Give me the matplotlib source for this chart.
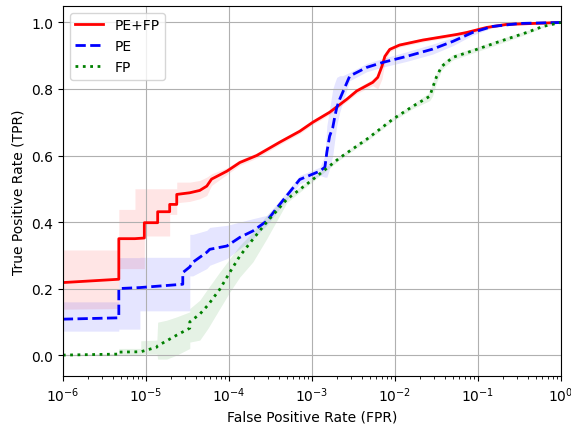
import matplotlib
matplotlib.use("Agg")
import matplotlib.pyplot as plt

# PE+FP (red)
red_fpr = [1e-6, 4.73e-6, 4.73e-6, 7.4e-6, 7.4e-6, 9.6e-6, 9.6e-6, 1.39e-5, 1.39e-5, 1.94e-5, 1.94e-5,
           2.36e-5, 2.36e-5, 3.39e-5, 4.47e-5, 5.43e-5, 6.2e-5, 9.5e-5, 1.36e-4, 2.17e-4, 4.11e-4,
           7.17e-4, 1.03e-3, 1.64e-3, 2.64e-3, 3.48e-3, 5.43e-3, 6.24e-3, 7.0e-3, 7.6e-3, 8.7e-3,
           1.14e-2, 2.17e-2, 5.6e-2, 7.4e-2, 0.128, 0.22, 1.0]
red_tpr = [0.218, 0.228, 0.350, 0.350, 0.350, 0.352, 0.398, 0.398, 0.431, 0.431, 0.453,
           0.453, 0.483, 0.488, 0.495, 0.508, 0.529, 0.553, 0.579, 0.600, 0.640,
           0.673, 0.700, 0.730, 0.769, 0.794, 0.820, 0.835, 0.868, 0.898, 0.919,
           0.932, 0.947, 0.964, 0.970, 0.985, 0.994, 1.0]
red_lo = [0.138, 0.14, 0.26, 0.26, 0.26, 0.26, 0.358, 0.358, 0.358, 0.358, 0.423,
          0.423, 0.458, 0.462, 0.47, 0.48, 0.51, 0.543, 0.571, 0.592, 0.633,
          0.666, 0.693, 0.723, 0.762, 0.786, 0.81, 0.80, 0.83, 0.88, 0.912,
          0.926, 0.941, 0.959, 0.965, 0.981, 0.992, 1.0]
red_hi = [0.316, 0.316, 0.438, 0.438, 0.50, 0.50, 0.50, 0.50, 0.50, 0.50, 0.50,
          0.50, 0.52, 0.52, 0.525, 0.535, 0.545, 0.563, 0.587, 0.608, 0.647,
          0.68, 0.707, 0.737, 0.776, 0.802, 0.83, 0.845, 0.88, 0.91, 0.926,
          0.938, 0.953, 0.969, 0.975, 0.988, 0.996, 1.0]

# PE (blue)
blue_fpr = [1e-6, 4.73e-6, 4.73e-6, 8.5e-6, 8.5e-6, 2.79e-5, 2.79e-5, 3.39e-5, 3.39e-5, 3.68e-5, 5.43e-5,
            5.9e-5, 9.5e-5, 1.36e-4, 1.95e-4, 2.87e-4, 4.11e-4, 7.17e-4, 1.25e-3, 1.44e-3, 1.52e-3,
            1.64e-3, 1.79e-3, 1.9e-3, 2.0e-3, 2.17e-3, 2.36e-3, 2.87e-3, 4.6e-3, 7.2e-3, 1.39e-2,
            2.87e-2, 5.0e-2, 8.7e-2, 0.15, 0.32, 1.0]
blue_tpr = [0.108, 0.112, 0.200, 0.203, 0.203, 0.213, 0.248, 0.265, 0.265, 0.279, 0.309,
            0.318, 0.328, 0.354, 0.373, 0.403, 0.453, 0.528, 0.553, 0.565, 0.610,
            0.658, 0.684, 0.718, 0.744, 0.769, 0.790, 0.839, 0.865, 0.880, 0.898,
            0.920, 0.943, 0.970, 0.988, 0.997, 1.0]
blue_lo = [0.072, 0.072, 0.078, 0.078, 0.133, 0.133, 0.133, 0.133, 0.238, 0.238, 0.26,
           0.27, 0.29, 0.32, 0.35, 0.39, 0.44, 0.515, 0.54, 0.535, 0.535,
           0.56, 0.60, 0.65, 0.69, 0.73, 0.76, 0.825, 0.852, 0.866, 0.883,
           0.905, 0.93, 0.962, 0.984, 0.995, 1.0]
blue_hi = [0.16, 0.16, 0.293, 0.293, 0.294, 0.294, 0.294, 0.294, 0.363, 0.363, 0.375,
           0.384, 0.39, 0.40, 0.41, 0.42, 0.465, 0.54, 0.565, 0.60, 0.69,
           0.74, 0.80, 0.82, 0.835, 0.84, 0.84, 0.85, 0.877, 0.892, 0.912,
           0.935, 0.955, 0.977, 0.991, 0.999, 1.0]

# FP (green)
green_fpr = [1e-6, 4.73e-6, 4.73e-6, 8.7e-6, 8.7e-6, 1.36e-5, 1.39e-5, 1.79e-5, 2.36e-5, 3.39e-5, 3.39e-5,
             4.47e-5, 5.6e-5, 7.8e-5, 1.03e-4, 1.36e-4, 1.95e-4, 2.87e-4, 5.0e-4, 1.03e-3, 2.17e-3,
             4.6e-3, 9.46e-3, 1.65e-2, 2.64e-2, 2.87e-2, 3.2e-2, 3.68e-2, 5.0e-2, 9.7e-2, 0.184,
             0.39, 0.61, 1.0]
green_tpr = [0.0, 0.003, 0.009, 0.010, 0.010, 0.024, 0.028, 0.043, 0.060, 0.081, 0.100,
             0.123, 0.150, 0.198, 0.249, 0.298, 0.348, 0.400, 0.468, 0.528, 0.593,
             0.649, 0.709, 0.748, 0.778, 0.805, 0.838, 0.868, 0.895, 0.919, 0.943,
             0.970, 0.988, 1.0]
green_lo = [-0.002, 0.0, 0.0, 0.0, 0.003, 0.003, -0.012, -0.012, 0.0, 0.02, 0.039,
            0.045, 0.08, 0.14, 0.19, 0.235, 0.28, 0.35, 0.458, 0.522, 0.587,
            0.643, 0.703, 0.741, 0.765, 0.78, 0.82, 0.858, 0.887, 0.912, 0.936,
            0.965, 0.985, 1.0]
green_hi = [0.002, 0.005, 0.02, 0.02, 0.043, 0.045, 0.099, 0.105, 0.115, 0.13, 0.14,
            0.165, 0.20, 0.25, 0.29, 0.33, 0.37, 0.42, 0.478, 0.534, 0.599,
            0.655, 0.715, 0.755, 0.79, 0.82, 0.85, 0.878, 0.903, 0.926, 0.95,
            0.975, 0.991, 1.0]

fig = plt.figure(figsize=(5.71, 4.27), dpi=100)
ax = fig.add_axes([0.110, 0.117, 0.872, 0.867])

series = [
    ("PE+FP", red_fpr, red_tpr, red_lo, red_hi, "r", "-"),
    ("PE", blue_fpr, blue_tpr, blue_lo, blue_hi, "b", "--"),
    ("FP", green_fpr, green_tpr, green_lo, green_hi, "g", ":"),
]
for label, x, y, lo, hi, c, ls in series:
    ax.fill_between(x, lo, hi, color=c, alpha=0.1, linewidth=0)
for label, x, y, lo, hi, c, ls in series:
    ax.plot(x, y, color=c, linestyle=ls, linewidth=2, label=label)

ax.set_xscale("log")
ax.set_xlim(1e-6, 1)
ax.set_ylim(-0.063, 1.05)
ax.set_yticks([0.0, 0.2, 0.4, 0.6, 0.8, 1.0])
ax.grid(True, which="major", color="#b0b0b0", linewidth=0.8)
ax.set_xlabel("False Positive Rate (FPR)")
ax.set_ylabel("True Positive Rate (TPR)")
ax.legend(loc="upper left")

fig.savefig("out.png", dpi=100)
